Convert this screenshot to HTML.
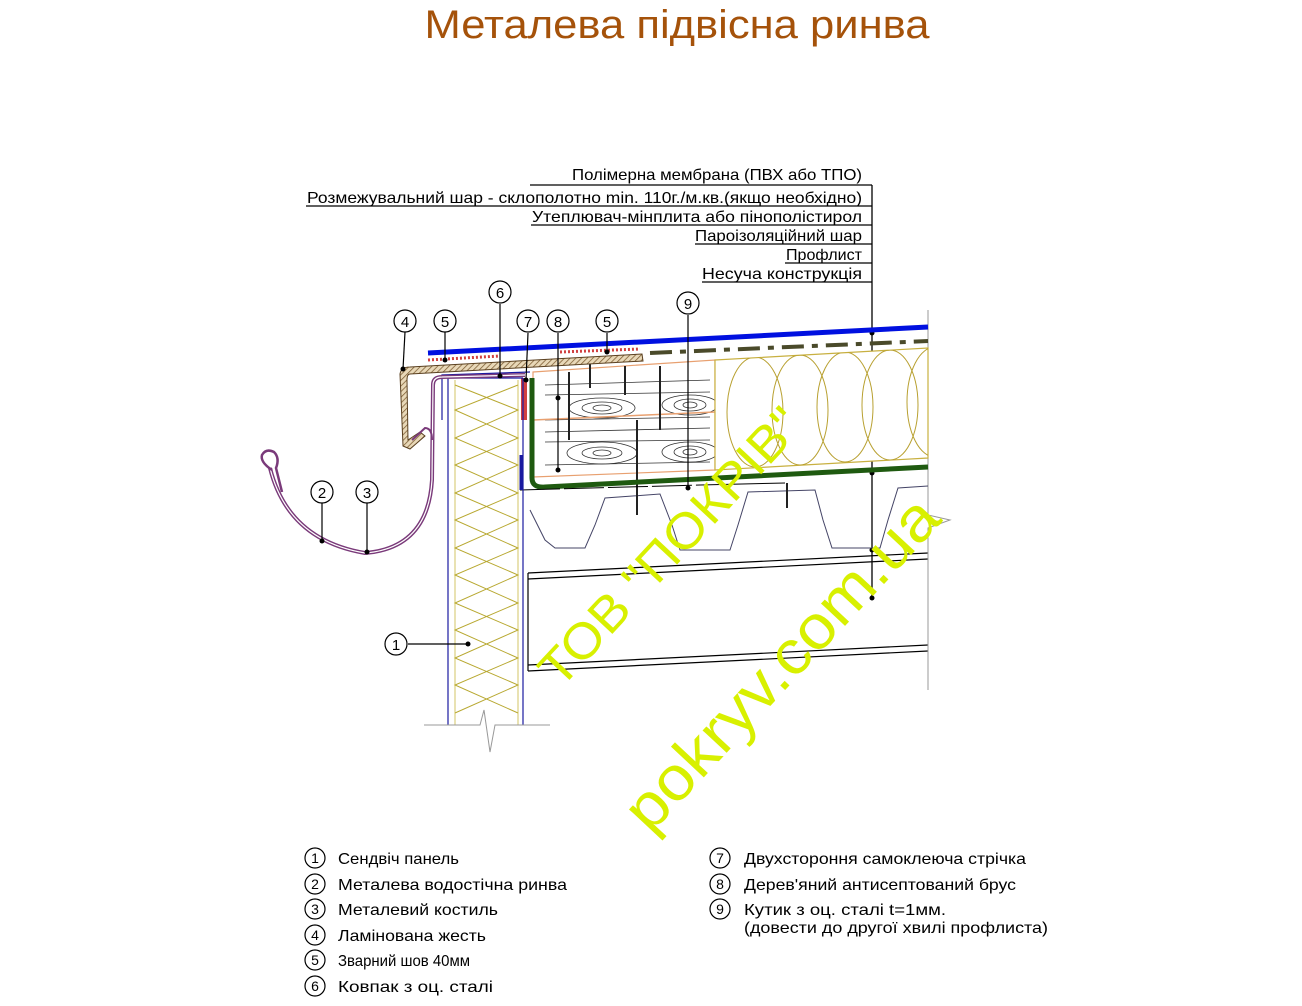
<!DOCTYPE html>
<html><head><meta charset="utf-8"><style>
html,body{margin:0;padding:0;background:#fff;}
svg{display:block;}
text{font-family:"Liberation Sans",sans-serif;}
</style></head><body>
<svg width="1302" height="1006" viewBox="0 0 1302 1006" xmlns="http://www.w3.org/2000/svg">
<defs>
<pattern id="hatch" width="4" height="4" patternUnits="userSpaceOnUse" patternTransform="rotate(45)">
<rect width="4" height="4" fill="#e8d8b8"/><line x1="0" y1="0" x2="0" y2="4" stroke="#7a5a30" stroke-width="1.5"/>
</pattern>
<clipPath id="insclip"><polygon points="715,360 928,348 928,458 715,470"/></clipPath>
</defs>
<text x="677" y="38" font-size="40" fill="#a5520a" text-anchor="middle" textLength="505" lengthAdjust="spacingAndGlyphs">Металева підвісна ринва</text>

<g font-size="16" fill="#000" text-anchor="end">
<text x="862" y="180" textLength="290" lengthAdjust="spacingAndGlyphs">Полімерна мембрана (ПВХ або ТПО)</text>
<text x="862" y="203" textLength="555" lengthAdjust="spacingAndGlyphs">Розмежувальний шар - склополотно min. 110г./м.кв.(якщо необхідно)</text>
<text x="862" y="222" textLength="330" lengthAdjust="spacingAndGlyphs">Утеплювач-мінплита або пінополістирол</text>
<text x="862" y="241" textLength="167" lengthAdjust="spacingAndGlyphs">Пароізоляційний шар</text>
<text x="862" y="260" textLength="76" lengthAdjust="spacingAndGlyphs">Профлист</text>
<text x="862" y="279" textLength="160" lengthAdjust="spacingAndGlyphs">Несуча конструкція</text>
</g>
<g stroke="#000" stroke-width="1.3">
<line x1="530" y1="185" x2="872" y2="185"/>
<line x1="306" y1="206" x2="872" y2="206"/>
<line x1="531" y1="225" x2="872" y2="225"/>
<line x1="695" y1="244" x2="872" y2="244"/>
<line x1="785" y1="263" x2="872" y2="263"/>
<line x1="702" y1="282" x2="872" y2="282"/>
<line x1="872" y1="185" x2="872" y2="600"/>
</g>
<g fill="#000"><circle cx="872" cy="333" r="2.5"/><circle cx="872" cy="413" r="2.5"/><circle cx="872" cy="473" r="2.5"/><circle cx="872" cy="550" r="2.5"/><circle cx="872" cy="598" r="2.5"/></g>

<g stroke="#000" stroke-width="1.2" fill="none">
<line x1="528" y1="573" x2="928" y2="553"/>
<line x1="528" y1="579" x2="928" y2="559"/>
<line x1="528" y1="665" x2="928" y2="645"/>
<line x1="528" y1="671" x2="928" y2="651"/>
<line x1="528" y1="573" x2="528" y2="671"/>
</g>
<polyline points="928,310 928,515 950,520 928,528 928,690" fill="none" stroke="#999" stroke-width="1"/>

<polyline fill="none" stroke="#446" stroke-width="1" points="530,510 545,540 555,548 585,548 595,525 605,498 660,494 672,525 680,550 730,550 738,525 748,492 815,490 823,520 832,548 880,548 888,520 898,488 928,486"/>

<polygon points="533,372 715,360 715,470 533,477" fill="#fff" stroke="#e8a070" stroke-width="1.2"/>
<g stroke="#333" stroke-width="0.8" fill="none">
<line x1="545" y1="385" x2="710" y2="380"/><line x1="545" y1="395" x2="710" y2="392"/>
<line x1="545" y1="420" x2="710" y2="417"/><line x1="545" y1="432" x2="710" y2="428"/>
<line x1="545" y1="442" x2="710" y2="440"/><line x1="545" y1="465" x2="710" y2="462"/>
<ellipse cx="602" cy="408" rx="33" ry="10"/><ellipse cx="602" cy="408" rx="20" ry="6"/><ellipse cx="602" cy="408" rx="9" ry="3"/>
<ellipse cx="690" cy="405" rx="28" ry="10"/><ellipse cx="690" cy="405" rx="16" ry="6"/><ellipse cx="690" cy="405" rx="7" ry="3"/>
<ellipse cx="602" cy="453" rx="35" ry="11"/><ellipse cx="602" cy="453" rx="20" ry="6"/><ellipse cx="602" cy="453" rx="9" ry="3"/>
<ellipse cx="690" cy="452" rx="28" ry="10"/><ellipse cx="690" cy="452" rx="16" ry="6"/><ellipse cx="690" cy="452" rx="7" ry="3"/>
</g>
<line x1="533" y1="420" x2="715" y2="412" stroke="#e8a070" stroke-width="1.5"/>
<g stroke="#222" stroke-width="2">
<line x1="569" y1="372" x2="569" y2="440"/><line x1="590" y1="362" x2="590" y2="388"/>
<line x1="625" y1="366" x2="625" y2="395"/><line x1="637" y1="420" x2="637" y2="515"/>
<line x1="660" y1="366" x2="660" y2="430"/><line x1="787" y1="483" x2="787" y2="508"/>
</g>

<polygon points="715,360 928,348 928,458 715,470" fill="#fff" stroke="#c8b040" stroke-width="1.2"/>
<g fill="none" stroke="#b8a030" stroke-width="1" clip-path="url(#insclip)">
<ellipse cx="755" cy="412" rx="28" ry="55"/>
<ellipse cx="800" cy="410" rx="28" ry="55"/>
<ellipse cx="845" cy="407" rx="28" ry="55"/>
<ellipse cx="890" cy="405" rx="28" ry="55"/>
<ellipse cx="935" cy="402" rx="28" ry="55"/>
</g>

<path d="M532,378 L532,478 Q532,488 545,487 L928,467" fill="none" stroke="#1f5a10" stroke-width="5"/>
<line x1="520" y1="490" x2="700" y2="485" stroke="#000" stroke-width="1" stroke-dasharray="40,4"/>
<line x1="700" y1="485" x2="785" y2="483" stroke="#000" stroke-width="1"/>

<line x1="650" y1="353" x2="928" y2="341" stroke="#4a4a2a" stroke-width="4" stroke-dasharray="22,8,6,8"/>
<line x1="428" y1="353" x2="928" y2="327" stroke="#0010e0" stroke-width="5"/>
<line x1="428" y1="360" x2="500" y2="356" stroke="#d04040" stroke-width="3" stroke-dasharray="2,2"/>
<line x1="560" y1="352" x2="640" y2="349" stroke="#d04040" stroke-width="3" stroke-dasharray="2,2"/>
<rect x="521" y="378" width="6" height="42" fill="#d04040"/>

<path d="M403,446 L400,374 Q401,367 410,367 L642,354 L643,361 L410,374 Q407,374 407,380 L408,440 L420,432 L425,436 L410,449 Z" fill="url(#hatch)" stroke="#5a4020" stroke-width="1"/>

<g stroke="#1a1aa0" stroke-width="1.2" fill="none">
<line x1="448" y1="378" x2="448" y2="725"/><line x1="523" y1="378" x2="523" y2="725"/>
<line x1="448" y1="378" x2="523" y2="378"/>
<path d="M442,420 L442,375 L530,372"/>
<line x1="521" y1="455" x2="521" y2="490" stroke-width="3"/>
</g>
<polyline fill="none" stroke="#b8a830" stroke-width="1" points="455,385 518,410 455,438 518,465 455,493 518,520 455,548 518,575 455,603 518,630 455,658 518,685 455,713"/>
<polyline fill="none" stroke="#b8a830" stroke-width="1" points="518,385 455,410 518,438 455,465 518,493 455,520 518,548 455,575 518,603 455,630 518,658 455,685 518,713"/>
<line x1="455" y1="380" x2="455" y2="725" stroke="#c8b840" stroke-width="0.8"/>
<line x1="518" y1="380" x2="518" y2="725" stroke="#c8b840" stroke-width="0.8"/>
<polyline fill="none" stroke="#999" stroke-width="1" points="424,725 480,725 484,710 490,752 495,725 550,725"/>

<path d="M270,468 Q288,540 365,553 Q428,548 432,480 L433,385 Q433,377 442,377 L525,375" fill="none" stroke="#7a3a7a" stroke-width="4"/>
<path d="M270,468 Q288,540 365,553 Q428,548 432,480 L433,385 Q433,377 442,377 L525,375" fill="none" stroke="#fff" stroke-width="1.2"/>
<path d="M272,470 Q260,462 262,455 Q266,448 274,452 Q280,458 276,468 L282,492" fill="none" stroke="#7a3a7a" stroke-width="2.5"/>
<path d="M412,440 L425,428 Q432,428 432,440" fill="none" stroke="#7a3a7a" stroke-width="2"/>

<g stroke="#000" stroke-width="1.2" fill="#fff">
<line x1="405" y1="332" x2="403" y2="369"/><line x1="445" y1="332" x2="445" y2="360"/>
<line x1="500" y1="304" x2="500" y2="376"/><line x1="528" y1="333" x2="526" y2="380"/>
<line x1="558" y1="333" x2="558" y2="470"/><line x1="607" y1="333" x2="607" y2="352"/>
<line x1="688" y1="315" x2="688" y2="488"/><line x1="322" y1="503" x2="322" y2="541"/>
<line x1="367" y1="503" x2="367" y2="552"/><line x1="408" y1="644" x2="468" y2="644"/>
</g>
<g fill="#000">
<circle cx="403" cy="369" r="2.5"/><circle cx="445" cy="360" r="2.5"/><circle cx="500" cy="376" r="2.5"/><circle cx="526" cy="380" r="2.5"/><circle cx="558" cy="398" r="2.5"/><circle cx="558" cy="470" r="2.5"/><circle cx="607" cy="352" r="2.5"/><circle cx="688" cy="488" r="2.5"/><circle cx="322" cy="541" r="2.5"/><circle cx="367" cy="552" r="2.5"/><circle cx="468" cy="644" r="2.5"/>
</g>
<g stroke="#000" stroke-width="1.2" fill="#fff">
<circle cx="405" cy="321" r="11"/><circle cx="445" cy="321" r="11"/><circle cx="500" cy="292" r="11"/><circle cx="528" cy="321" r="11"/><circle cx="558" cy="321" r="11"/><circle cx="607" cy="321" r="11"/><circle cx="688" cy="303" r="11"/><circle cx="322" cy="492" r="11"/><circle cx="367" cy="492" r="11"/><circle cx="396" cy="644" r="11"/>
</g>
<g font-size="15" text-anchor="middle" fill="#000">
<text x="405" y="327">4</text><text x="445" y="327">5</text><text x="500" y="298">6</text><text x="528" y="327">7</text><text x="558" y="327">8</text><text x="607" y="327">5</text><text x="688" y="309">9</text><text x="322" y="498">2</text><text x="367" y="498">3</text><text x="396" y="650">1</text>
</g>

<text x="0" y="0" font-family="Liberation Serif,serif" font-size="50" fill="#d8f000" transform="translate(560,690) rotate(-47)" textLength="360" lengthAdjust="spacingAndGlyphs">ТОВ "ПОКРІВ"</text>
<text x="0" y="0" font-family="Liberation Serif,serif" font-size="62" fill="#d8f000" transform="translate(650,835) rotate(-47)" textLength="430" lengthAdjust="spacingAndGlyphs">pokryv.com.ua</text>

<g stroke="#000" stroke-width="1.2" fill="none">
<circle cx="315" cy="858" r="10"/><circle cx="315" cy="884" r="10"/><circle cx="315" cy="909" r="10"/><circle cx="315" cy="935" r="10"/><circle cx="315" cy="960" r="10"/><circle cx="315" cy="986" r="10"/>
<circle cx="720" cy="858" r="10"/><circle cx="720" cy="884" r="10"/><circle cx="720" cy="909" r="10"/>
</g>
<g font-size="14" text-anchor="middle" fill="#000">
<text x="315" y="863">1</text><text x="315" y="889">2</text><text x="315" y="914">3</text><text x="315" y="940">4</text><text x="315" y="965">5</text><text x="315" y="991">6</text>
<text x="720" y="863">7</text><text x="720" y="889">8</text><text x="720" y="914">9</text>
</g>
<g font-size="16" fill="#000">
<text x="338" y="864" textLength="121" lengthAdjust="spacingAndGlyphs">Сендвіч панель</text>
<text x="338" y="890" textLength="229" lengthAdjust="spacingAndGlyphs">Металева водостічна ринва</text>
<text x="338" y="915" textLength="160" lengthAdjust="spacingAndGlyphs">Металевий костиль</text>
<text x="338" y="941" textLength="148" lengthAdjust="spacingAndGlyphs">Ламінована жесть</text>
<text x="338" y="966" textLength="132" lengthAdjust="spacingAndGlyphs">Зварний шов 40мм</text>
<text x="338" y="992" textLength="155" lengthAdjust="spacingAndGlyphs">Ковпак з оц. сталі</text>
<text x="744" y="864" textLength="282" lengthAdjust="spacingAndGlyphs">Двухстороння самоклеюча стрічка</text>
<text x="744" y="890" textLength="272" lengthAdjust="spacingAndGlyphs">Дерев'яний антисептований брус</text>
<text x="744" y="915" textLength="202" lengthAdjust="spacingAndGlyphs">Кутик з оц. сталі t=1мм.</text>
<text x="744" y="933" textLength="304" lengthAdjust="spacingAndGlyphs">(довести до другої хвилі профлиста)</text>
</g>
</svg>
</body></html>
